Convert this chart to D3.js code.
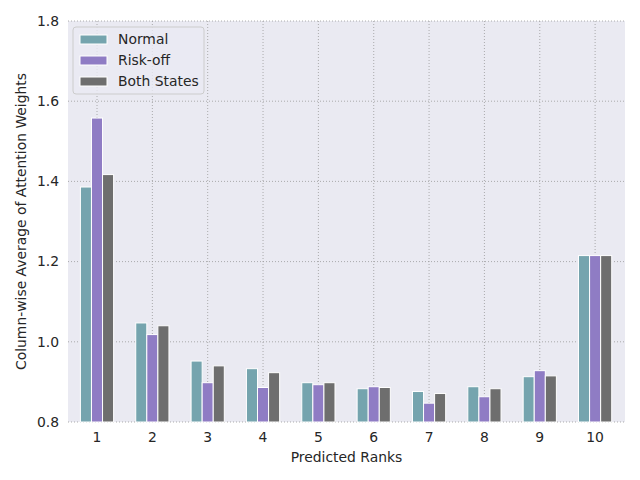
<!DOCTYPE html>
<html><head><meta charset="utf-8">
<script src="https://cdn.jsdelivr.net/npm/d3@7"></script>
<style>body{margin:0;background:#fff;} svg{display:block;font-family:"DejaVu Sans",sans-serif;}</style>
</head><body>
<script>
const categories = ["1","2","3","4","5","6","7","8","9","10"];
const seriesNames = ["Normal","Risk-off","Both States"];
const normal   = [1.386,1.047,0.952,0.933,0.898,0.883,0.876,0.888,0.913,1.215];
const riskOff  = [1.558,1.018,0.898,0.886,0.893,0.888,0.847,0.863,0.928,1.215];
const both     = [1.417,1.040,0.940,0.923,0.898,0.886,0.871,0.883,0.915,1.215];
const yTicks = [0.8,1.0,1.2,1.4,1.6,1.8];
const colors = ["#75a4ae","#8f7cc4","#6e6e6e"];
const series = [normal, riskOff, both];

const W=640,H=480;
const m={left:68,right:15,top:21,bottom:58};
const fs=13.9;
const svg=d3.select("body").append("svg").attr("width",W).attr("height",H);
const x=d3.scaleLinear().domain([0.476,10.54]).range([m.left,W-m.right]);
const y=d3.scaleLinear().domain([0.8,1.8]).range([H-m.bottom,m.top]);

svg.append("rect").attr("x",m.left).attr("y",m.top)
  .attr("width",W-m.right-m.left).attr("height",H-m.bottom-m.top).attr("fill","#eaeaf2");

// gridlines
const g=svg.append("g");
g.selectAll(".hg").data(yTicks).join("line")
  .attr("x1",m.left).attr("x2",W-m.right)
  .attr("y1",d=>y(d)).attr("y2",d=>y(d))
  .attr("stroke","#999").attr("stroke-width",0.8).attr("stroke-dasharray","1,2");
g.selectAll(".vg").data(categories).join("line")
  .attr("x1",(d,i)=>x(i+1)).attr("x2",(d,i)=>x(i+1))
  .attr("y1",m.top).attr("y2",H-m.bottom)
  .attr("stroke","#999").attr("stroke-width",0.8).attr("stroke-dasharray","1,2");

// bars
const bw=0.2;
series.forEach((s,k)=>{
  svg.append("g").selectAll("rect").data(s).join("rect")
    .attr("x",(d,i)=>x(i+1+(k-1)*bw-bw/2))
    .attr("width",x(bw)-x(0))
    .attr("y",d=>y(d))
    .attr("height",d=>y(0.8)-y(d))
    .attr("fill",colors[k]).attr("stroke","#fff").attr("stroke-width",1);
});

// y ticks
svg.append("g").selectAll("text").data(yTicks).join("text")
  .attr("x",m.left-9).attr("y",d=>y(d)).attr("dy","0.35em")
  .attr("text-anchor","end").attr("font-size",fs).attr("fill","#262626")
  .text(d=>d.toFixed(1));
// x ticks
svg.append("g").selectAll("text").data(categories).join("text")
  .attr("x",(d,i)=>x(i+1)).attr("y",H-m.bottom+20)
  .attr("text-anchor","middle").attr("font-size",fs).attr("fill","#262626")
  .text(d=>d);

svg.append("text").attr("x",(m.left+W-m.right)/2).attr("y",H-18)
  .attr("text-anchor","middle").attr("font-size",fs).attr("fill","#262626").text("Predicted Ranks");
svg.append("text").attr("transform",`translate(26,${(m.top+H-m.bottom)/2}) rotate(-90)`)
  .attr("text-anchor","middle").attr("font-size",fs).attr("fill","#262626")
  .text("Column-wise Average of Attention Weights");

// legend
const lg=svg.append("g");
lg.append("rect").attr("x",73).attr("y",27).attr("width",131).attr("height",67).attr("rx",3)
  .attr("fill","#eaeaf2").attr("fill-opacity",0.8).attr("stroke","#cccccc");
seriesNames.forEach((n,k)=>{
  const cy=39.5+k*21;
  lg.append("rect").attr("x",80).attr("y",cy-4.5).attr("width",27).attr("height",9)
    .attr("fill",colors[k]).attr("stroke","#fff").attr("stroke-width",1);
  lg.append("text").attr("x",118).attr("y",cy).attr("dy","0.35em").attr("font-size",fs)
    .attr("fill","#262626").text(n);
});
</script>
</body></html>
